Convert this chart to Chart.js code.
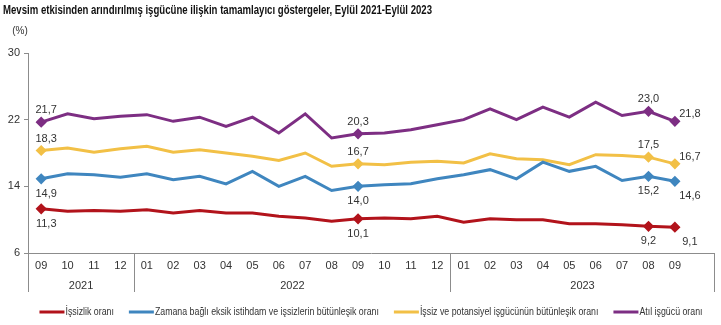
<!DOCTYPE html>
<html>
<head>
<meta charset="utf-8">
<script src="https://cdn.jsdelivr.net/npm/chart.js@4.4.0/dist/chart.umd.min.js"></script>
<style>
    html, body { margin: 0; padding: 0; background: #fff; }
    #wrap { width: 721px; height: 325px; }
</style>
</head>
<body>
<div id="wrap"><canvas id="chart"></canvas></div>
<script>
// month ticks, Eylül 2021 - Eylül 2023 (last slot left empty like the original)
const months = ["09", "10", "11", "12",
    "01", "02", "03", "04", "05", "06", "07", "08", "09", "10", "11", "12",
    "01", "02", "03", "04", "05", "06", "07", "08", "09", ""]
const years = ["2021", "2022", "2023"]
const yearStart = [0, 4, 16]

const issizlik = [11.3, 11.0, 11.1, 11.0, 11.2, 10.8, 11.1, 10.8, 10.8, 10.4, 10.2, 9.8, 10.1,
    10.2, 10.1, 10.4, 9.7, 10.1, 10.0, 10.0, 9.5, 9.5, 9.4, 9.2, 9.1]
const zamanaBagli = [14.9, 15.5, 15.4, 15.1, 15.5, 14.8, 15.2, 14.3, 15.8, 14.0, 15.2, 13.5, 14.0,
    14.2, 14.3, 14.9, 15.4, 16.0, 14.9, 16.9, 15.8, 16.4, 14.7, 15.2, 14.6]
const potansiyel = [18.3, 18.6, 18.1, 18.5, 18.8, 18.1, 18.4, 18.0, 17.6, 17.1, 18.0, 16.4, 16.7,
    16.6, 16.9, 17.0, 16.8, 17.9, 17.3, 17.2, 16.6, 17.8, 17.7, 17.5, 16.7]
const atil = [21.7, 22.7, 22.1, 22.4, 22.6, 21.8, 22.3, 21.2, 22.3, 20.4, 22.7, 19.8, 20.3,
    20.4, 20.8, 21.4, 22.0, 23.3, 22.0, 23.5, 22.3, 24.1, 22.5, 23.0, 21.8]

const labelled = [0, 12, 23, 24]
const yTicks = [6, 14, 22, 30]

const title = "Mevsim etkisinden arındırılmış işgücüne ilişkin tamamlayıcı göstergeler, Eylül 2021-Eylül 2023"

const axisColor = "#8c8c8c"
const textColor = "#333333"
const sans = "'Liberation Sans', Arial, sans-serif"

const series = [
    { label: "İşsizlik oranı", data: issizlik, color: "#b2131b", below: true },
    { label: "Zamana bağlı eksik istihdam ve işsizlerin bütünleşik oranı", data: zamanaBagli, color: "#3f86bf", below: true },
    { label: "İşsiz ve potansiyel işgücünün bütünleşik oranı", data: potansiyel, color: "#f2c046", below: false },
    { label: "Atıl işgücü oranı", data: atil, color: "#7d2e83", below: false },
]

const fmt = (v) => v.toFixed(1).replace(".", ",")

// no narrow font installed, so squeeze text horizontally
const narrowText = (ctx, text, x, y, squeeze) => {
    ctx.save()
    ctx.translate(x, y)
    ctx.scale(squeeze, 1)
    ctx.fillText(text, 0, 0)
    ctx.restore()
}

// value labels next to the diamond markers
const valueLabels = {
    id: "valueLabels",
    afterDatasetsDraw(chart) {
        const ctx = chart.ctx
        ctx.save()
        ctx.font = "11px " + sans
        ctx.fillStyle = textColor
        ctx.textAlign = "center"
        ctx.textBaseline = "middle"
        chart.data.datasets.forEach((ds, i) => {
            const meta = chart.getDatasetMeta(i)
            const last = ds.data.length - 1
            labelled.forEach((idx) => {
                const pt = meta.data[idx]
                let dx = idx === 0 ? 5 : 0
                let dy = ds.below ? 15 : -12
                if (idx === last) {
                    dx = 15
                    dy = ds.below ? 15 : -7
                }
                ctx.fillText(fmt(ds.data[idx]), pt.x + dx, pt.y + dy)
            })
        })
        ctx.restore()
    },
}

// title, unit, year row under the month ticks and the legend
const frame = {
    id: "frame",
    afterDraw(chart) {
        const x = chart.scales.x
        const ctx = chart.ctx
        const bottom = chart.chartArea.bottom
        const half = (x.getPixelForValue(1) - x.getPixelForValue(0)) / 2
        ctx.save()
        ctx.strokeStyle = axisColor
        ctx.lineWidth = 1
        ctx.fillStyle = textColor
        ctx.font = "11px " + sans
        ctx.textAlign = "center"
        ctx.textBaseline = "middle"
        years.forEach((yr, i) => {
            const end = i < years.length - 1 ? yearStart[i + 1] - 1 : months.length - 1
            const left = Math.round(x.getPixelForValue(yearStart[i]) - half) + 0.5
            const right = x.getPixelForValue(end) + half
            ctx.beginPath()
            ctx.moveTo(left, bottom)
            ctx.lineTo(left, bottom + 39)
            ctx.stroke()
            ctx.fillText(yr, (left + right) / 2, bottom + 33)
        })
        const edge = Math.round(chart.chartArea.right) - 0.5
        ctx.beginPath()
        ctx.moveTo(edge, bottom)
        ctx.lineTo(edge, bottom + 39)
        ctx.stroke()

        ctx.font = "10px " + sans
        ctx.fillText("(%)", 20, 31)

        // title
        ctx.textAlign = "left"
        ctx.fillStyle = "#111"
        ctx.font = "bold 12px " + sans
        narrowText(ctx, title, 3, 11, 0.8)

        // legend
        const squeeze = 0.88
        const sw = 25
        const gap = 15
        ctx.font = "10px " + sans
        ctx.fillStyle = textColor
        const widths = chart.data.datasets.map((ds) => ctx.measureText(ds.label).width * squeeze)
        const total = widths.reduce((a, w) => a + sw + 1 + w, 0) + gap * (widths.length - 1)
        let lx = 371 - total / 2
        const ly = 312
        chart.data.datasets.forEach((ds, i) => {
            ctx.fillStyle = ds.borderColor
            ctx.fillRect(lx, ly - 1.5, sw, 3)
            lx += sw + 1
            ctx.fillStyle = textColor
            narrowText(ctx, ds.label, lx, ly, squeeze)
            lx += widths[i] + gap
        })
        ctx.restore()
    },
}

new Chart(document.getElementById("chart"), {
    type: "line",
    data: {
        labels: months,
        datasets: series.map((s) => ({
            label: s.label,
            data: s.data,
            below: s.below,
            borderColor: s.color,
            backgroundColor: s.color,
            borderWidth: 3,
            tension: 0,
            pointStyle: "rectRot",
            pointRadius: (c) => (labelled.includes(c.dataIndex) ? 3.5 : 0),
            pointHoverRadius: 0,
        })),
    },
    options: {
        responsive: true,
        maintainAspectRatio: false,
        animation: false,
        layout: { padding: { left: 0, right: 4, top: 53, bottom: 24 } },
        plugins: {
            title: { display: false },
            legend: { display: false },
            tooltip: { enabled: false },
        },
        scales: {
            x: {
                offset: true,
                grid: { display: false, drawTicks: false },
                border: { display: true, color: axisColor },
                ticks: { color: textColor, font: { family: sans, size: 11 }, padding: 6, autoSkip: false, maxRotation: 0 },
                afterFit: (s) => { s.height = 48 },
            },
            y: {
                min: 6,
                max: 30,
                afterBuildTicks: (s) => { s.ticks = yTicks.map((v) => ({ value: v })) },
                grid: { drawOnChartArea: false, drawTicks: true, tickLength: 4, color: axisColor },
                border: { display: true, color: axisColor },
                ticks: { color: textColor, font: { family: sans, size: 11 }, padding: 4 },
                afterFit: (s) => { s.width = 28 },
            },
        },
    },
    plugins: [valueLabels, frame],
})
</script>
</body>
</html>
